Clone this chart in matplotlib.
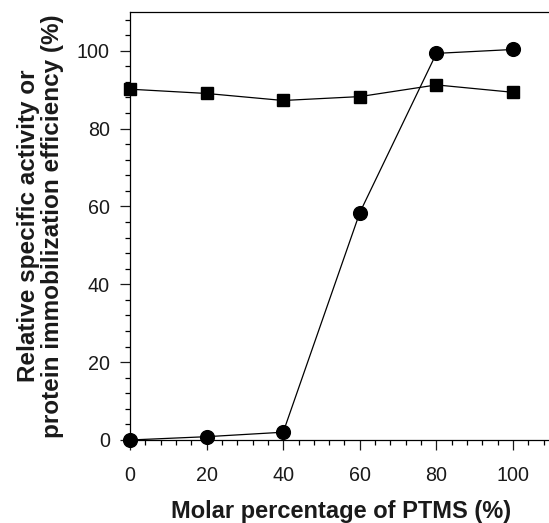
import matplotlib.pyplot as plt
from matplotlib.ticker import MultipleLocator

plt.rcParams['font.family'] = ['Liberation Sans', 'DejaVu Sans']

ptms = [0, 20, 40, 60, 80, 100]
activity = [0, 0.85, 2.0, 58.4, 99.3, 100.3]
immobilization = [90.1, 89.0, 87.2, 88.2, 91.2, 89.3]

fig = plt.figure(figsize=(5.49, 5.23), dpi=100)
ax = fig.add_axes([0.2368, 0.1587, 1.0042 - 0.2368, 0.9776 - 0.1587])

ax.plot(ptms, immobilization, color='black', lw=0.9, marker='s', ms=8.3,
        clip_on=False, zorder=3)
ax.plot(ptms, activity, color='black', lw=0.9, marker='o', ms=9.9,
        clip_on=False, zorder=4)

ax.set_xlim(0, 110)
ax.set_ylim(0, 110)
ax.xaxis.set_minor_locator(MultipleLocator(4))
ax.yaxis.set_minor_locator(MultipleLocator(4))
ax.set_xticks([0, 20, 40, 60, 80, 100])
ax.set_yticks([0, 20, 40, 60, 80, 100])
ax.tick_params(which='major', direction='out', length=7.5, width=0.9,
               labelsize=14.2, colors='#1a1a1a')
ax.tick_params(which='minor', direction='out', length=3.8, width=0.9)
ax.tick_params(axis='x', which='major', pad=11)
ax.tick_params(axis='y', which='major', pad=7)

for s in ax.spines.values():
    s.set_linewidth(0.9)

ax.set_xlabel('Molar percentage of PTMS (%)', fontsize=17,
              fontweight='bold', labelpad=11, color='#1a1a1a')
ax.set_ylabel('Relative specific activity or\nprotein immobilization efficiency (%)',
              fontsize=17.5, fontweight='bold', linespacing=1.1, labelpad=9,
              color='#1a1a1a')

fig.savefig('out.png', dpi=100)
